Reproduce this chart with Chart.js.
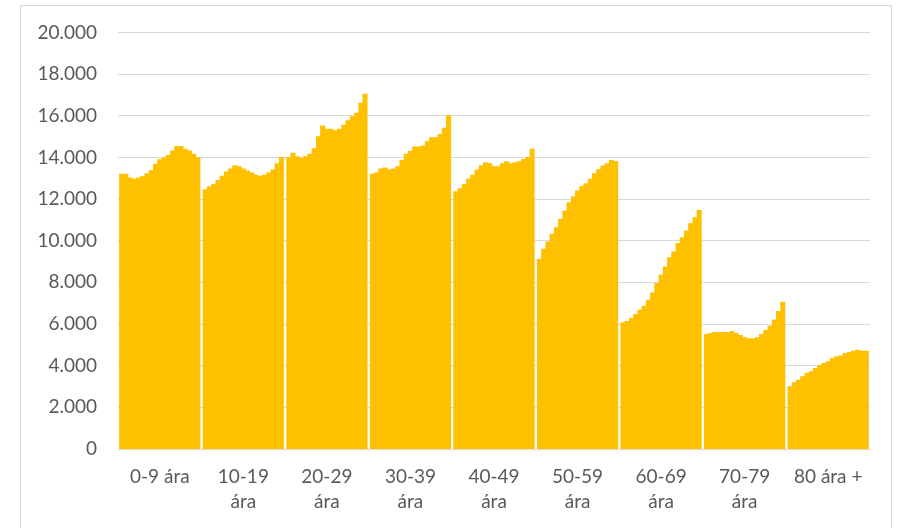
<!DOCTYPE html>
<html>
<head>
<meta charset="utf-8">
<script src="https://cdn.jsdelivr.net/npm/chart.js@4/dist/chart.umd.min.js"></script>
<style>
  html, body { margin: 0; padding: 0; background: #fff; }
  #wrap { position: relative; width: 899px; height: 528px; }
  #frame { position: absolute; left: 20px; top: 5px; width: 872px; height: 530px; border: 1px solid #d9d9d9; box-sizing: border-box; }
  canvas { position: absolute; left: 0; top: 0; }
</style>
</head>
<body>
<div id="wrap">
  <div id="frame"></div>
  <canvas id="chart" width="899" height="528"></canvas>
</div>
<script>
// aldursflokkar (x-ás)
var categories = ["0-9 ára", ["10-19", "ára"], ["20-29", "ára"], ["30-39", "ára"], ["40-49", "ára"],
                  ["50-59", "ára"], ["60-69", "ára"], ["70-79", "ára"], "80 ára +"];

// 19 gildi í hverjum flokki, lesin af myndinni
var age0_9   = [13200, 13200, 13010, 12950, 13010, 13090, 13220, 13380, 13670, 13890, 13990, 14100, 14310, 14530, 14530, 14390, 14310, 14150, 13990];
var age10_19 = [12450, 12600, 12700, 12900, 13100, 13300, 13450, 13600, 13550, 13450, 13350, 13250, 13150, 13100, 13150, 13250, 13400, 13700, 14000];
var age20_29 = [14000, 14200, 14040, 13960, 14040, 14150, 14420, 15000, 15510, 15350, 15350, 15280, 15350, 15550, 15760, 15960, 16120, 16600, 17030];
var age30_39 = [13200, 13250, 13450, 13500, 13400, 13450, 13550, 13850, 14150, 14300, 14500, 14500, 14550, 14750, 14950, 14950, 15100, 15400, 16000];
var age40_49 = [12350, 12500, 12700, 12950, 13150, 13400, 13600, 13750, 13700, 13550, 13550, 13700, 13800, 13700, 13750, 13800, 13900, 14000, 14400];
var age50_59 = [9100, 9590, 9940, 10310, 10630, 11030, 11430, 11830, 12100, 12390, 12610, 12740, 12950, 13220, 13410, 13590, 13700, 13860, 13810];
var age60_69 = [6060, 6120, 6270, 6460, 6670, 6860, 7150, 7500, 7950, 8350, 8740, 9190, 9460, 9870, 10150, 10470, 10820, 11110, 11460];
var age70_79 = [5500, 5550, 5600, 5600, 5600, 5600, 5650, 5550, 5450, 5350, 5300, 5300, 5350, 5500, 5700, 5900, 6200, 6600, 7050];
var age80    = [2990, 3180, 3310, 3470, 3630, 3710, 3870, 4000, 4110, 4190, 4350, 4430, 4470, 4590, 4640, 4700, 4750, 4700, 4700];

var yTicks = [0, 2000, 4000, 6000, 8000, 10000, 12000, 14000, 16000, 18000, 20000];

var groups = [age0_9, age10_19, age20_29, age30_39, age40_49, age50_59, age60_69, age70_79, age80];

// thousands with a dot: 20000 -> "20.000"
function fmt(v) {
  return String(v).replace(/\B(?=(\d{3})+(?!\d))/g, ".");
}

// one dataset per position inside the group (like excel series)
var datasets = [];
for (var i = 0; i < age0_9.length; i++) {
  datasets.push({
    label: "röð " + (i + 1),
    data: groups.map(function (g) { return g[i]; }),
    backgroundColor: "#FFC000",
    borderWidth: 0,
    inflateAmount: 0.4,
    barPercentage: 1.0,
    categoryPercentage: 0.963
  });
}

var textColor = "#595959";
var fontFam = "Lato, 'Open Sans', sans-serif";

new Chart(document.getElementById("chart").getContext("2d"), {
  type: "bar",
  data: { labels: categories, datasets: datasets },
  options: {
    responsive: false,
    animation: false,
    layout: { padding: { left: 0, top: 32, right: 29, bottom: 0 } },
    plugins: { legend: { display: false }, tooltip: { enabled: false } },
    scales: {
      x: {
        grid: { display: false, drawTicks: false },
        border: { display: true, color: "#d9d9d9", width: 1 },
        ticks: {
          color: textColor,
          padding: 16,
          maxRotation: 0,
          autoSkip: false,
          font: { family: fontFam, size: 19, lineHeight: 1.3 }
        },
        afterFit: function (s) { s.height = 79; }
      },
      y: {
        min: 0,
        max: 20000,
        afterBuildTicks: function (s) { s.ticks = yTicks.map(function (v) { return { value: v }; }); },
        grid: { color: "#d9d9d9", drawTicks: false },
        border: { display: false },
        ticks: {
          color: textColor,
          padding: 21,
          font: { family: fontFam, size: 19 },
          callback: function (v) { return fmt(v); }
        },
        afterFit: function (s) { s.width = 118; }
      }
    }
  }
});
</script>
</body>
</html>
